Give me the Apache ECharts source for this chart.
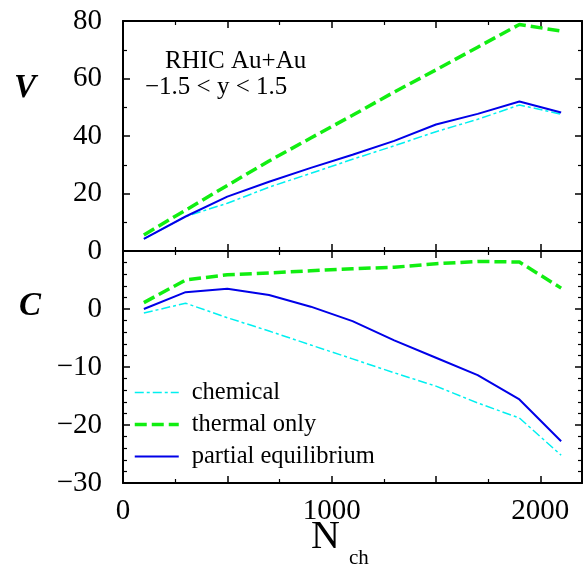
<!DOCTYPE html>
<html><head><meta charset="utf-8">
<script src="https://cdn.jsdelivr.net/npm/echarts@6/dist/echarts.min.js"></script>
<style>html,body{margin:0;padding:0;background:#fff}#c{width:585px;height:566px}</style>
</head><body><div id="c"></div>
<script>
// N_ch values of the computed points
const nch = [100, 300, 500, 700, 900, 1100, 1300, 1500, 1700, 1900, 2100];
// Upper panel: V
const vChemical = [4.2, 12.0, 16.6, 22.2, 27.0, 31.9, 36.6, 41.5, 45.8, 50.8, 47.6];
const vThermal  = [5.6, 14.2, 22.8, 31.3, 39.3, 47.2, 55.3, 63.0, 70.9, 78.8, 76.5];
const vPartial  = [4.2, 12.0, 18.9, 24.1, 28.9, 33.5, 38.3, 44.0, 47.7, 52.0, 48.2];
// Lower panel: C
const cChemical = [-0.7, 1.0, -1.5, -3.8, -6.2, -8.6, -11.0, -13.3, -16.2, -18.8, -25.2];
const cThermal  = [1.1, 5.0, 5.9, 6.2, 6.6, 6.95, 7.2, 7.8, 8.2, 8.1, 3.6];
const cPartial  = [0.0, 2.9, 3.5, 2.4, 0.4, -2.1, -5.4, -8.4, -11.4, -15.6, -22.8];
// tick labels
const xTickLabels = [0, 1000, 2000];
const vTickLabels = [0, 20, 40, 60, 80];
const cTickLabels = [-30, -20, -10, 0];
const seriesNames = ['chemical', 'thermal only', 'partial equilibrium'];

const SERIF = '"Liberation Serif", "Times New Roman", Times, serif';
const styles = [
  {color: '#00f0f0', width: 1.5, type: [9, 3, 3, 3]},
  {color: '#11ee11', width: 3.5, type: [12, 5]},
  {color: '#0000e8', width: 2, type: 'solid'}
];
const fmtNum = v => (v < 0 ? '\u2212' + Math.abs(v) : String(v));

function axisBase(extra) {
  return Object.assign({
    axisLine: {onZero: false, lineStyle: {color: '#000', width: 2}},
    axisTick: {inside: true, length: 7, lineStyle: {color: '#000', width: 1.5}},
    splitLine: {show: false},
    minorSplitLine: {show: false}
  }, extra);
}
function xAx(grid, pos, labels) {
  return axisBase({
    type: 'value', gridIndex: grid, position: pos, min: 0, max: 2200, interval: 500,
    minorTick: {show: true, splitNumber: 2, length: 4, lineStyle: {color: '#000', width: 1.2}},
    axisLabel: labels ? {
      show: true, margin: 14, color: '#000', fontFamily: SERIF, fontSize: 29,
      formatter: v => (xTickLabels.indexOf(v) >= 0 ? String(v) : '')
    } : {show: false}
  });
}
function yAx(grid, pos, min, max, interval, minorSplit, ticks, labels) {
  return axisBase({
    type: 'value', gridIndex: grid, position: pos, min: min, max: max, interval: interval,
    minorTick: {show: true, splitNumber: minorSplit, length: 4, lineStyle: {color: '#000', width: 1.2}},
    axisLabel: labels ? {
      show: true, margin: 21, color: '#000', fontFamily: SERIF, fontSize: 29,
      formatter: v => (ticks.indexOf(v) >= 0 ? fmtNum(v) : '')
    } : {show: false}
  });
}

const pairs = arr => nch.map((x, i) => [x, arr[i]]);
function mk(name, idx, data, panel) {
  const s = styles[idx];
  return {
    name: name, type: 'line', xAxisIndex: panel * 2, yAxisIndex: panel * 2,
    data: pairs(data), symbol: 'none', showSymbol: false, silent: true,
    lineStyle: {color: s.color, width: s.width, type: s.type},
    itemStyle: {color: s.color}, animation: false
  };
}

const chart = echarts.init(document.getElementById('c'), null, {renderer: 'canvas'});
chart.setOption({
  backgroundColor: '#fff',
  animation: false,
  grid: [
    {left: 123, top: 21, width: 459, height: 230},
    {left: 123, top: 251, width: 459, height: 232}
  ],
  xAxis: [xAx(0, 'bottom', false), xAx(0, 'top', false), xAx(1, 'bottom', true), xAx(1, 'top', false)],
  yAxis: [
    yAx(0, 'left', 0, 80, 20, 2, vTickLabels, true),
    yAx(0, 'right', 0, 80, 20, 2, vTickLabels, false),
    yAx(1, 'left', -30, 10, 10, 5, cTickLabels, true),
    yAx(1, 'right', -30, 10, 10, 5, cTickLabels, false)
  ],
  legend: {
    orient: 'vertical', left: 133, top: 380, padding: 0,
    itemWidth: 44, itemHeight: 14, itemGap: 7,
    data: seriesNames,
    textStyle: {fontFamily: SERIF, fontSize: 24.5, color: '#000', padding: [0, 0, 0, 8]},
    lineStyle: {width: 'inherit', type: 'inherit'},
    itemStyle: {opacity: 0, borderWidth: 0},
    selectedMode: false
  },
  series: [
    mk(seriesNames[0], 0, vChemical, 0),
    mk(seriesNames[1], 1, vThermal, 0),
    mk(seriesNames[2], 2, vPartial, 0),
    mk(seriesNames[0], 0, cChemical, 1),
    mk(seriesNames[1], 1, cThermal, 1),
    mk(seriesNames[2], 2, cPartial, 1)
  ],
  graphic: [
    {type: 'text', left: 14, top: 72, style: {text: 'V', font: 'italic bold 33px ' + SERIF, fill: '#000'}},
    {type: 'text', left: 19, top: 290, style: {text: 'C', font: 'italic bold 33px ' + SERIF, fill: '#000'}},
    {type: 'text', left: 165, top: 49, style: {text: 'RHIC Au+Au', font: '25px ' + SERIF, fill: '#000'}},
    {type: 'text', left: 145, top: 75, style: {text: '\u22121.5 < y < 1.5', font: '25px ' + SERIF, fill: '#000'}},
    {type: 'text', x: 311, y: 537, style: {text: 'N', font: '40px ' + SERIF, fill: '#000', textVerticalAlign: 'middle'}},
    {type: 'text', x: 349, y: 558, style: {text: 'ch', font: '21px ' + SERIF, fill: '#000', textVerticalAlign: 'middle'}}
  ]
});
</script>
</body></html>
